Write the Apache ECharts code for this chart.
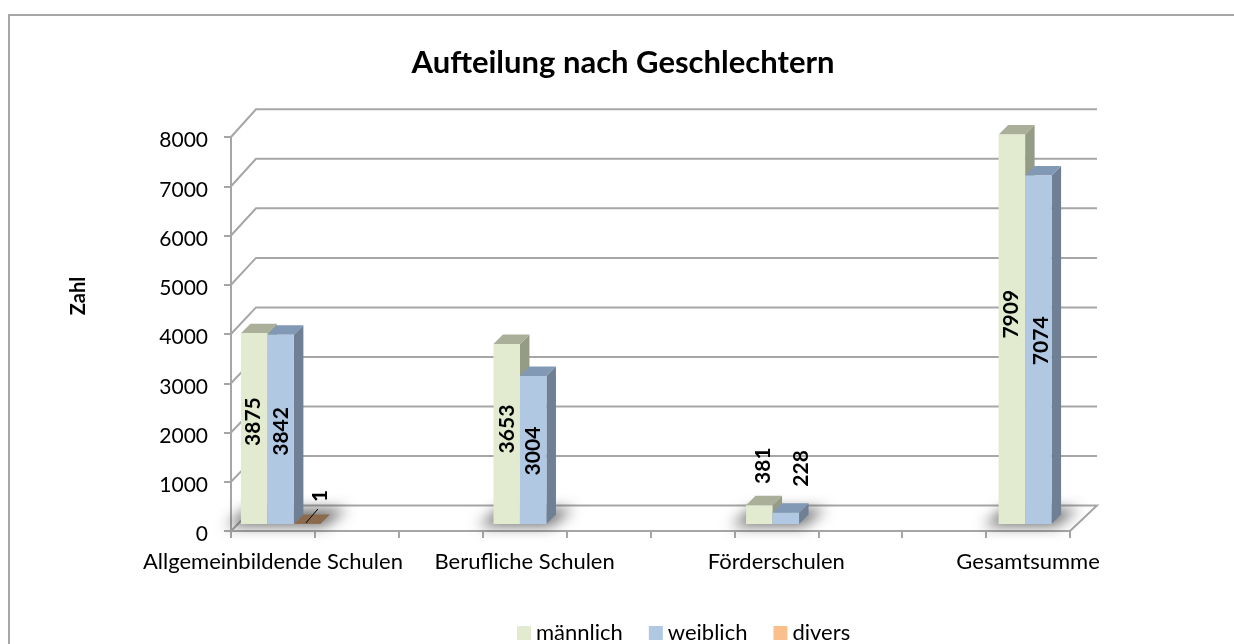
<!DOCTYPE html>
<html>
<head>
<meta charset="utf-8">
<style>
  html, body { margin: 0; padding: 0; background: #fff; overflow: hidden; }
  #chart { position: absolute; left: 0; top: 0; width: 1234px; height: 644px; }
  #frame { position: absolute; left: 8px; top: 14px; right: -4px; height: 640px; border: 2px solid #a6a6a6; box-sizing: border-box; }
</style>
</head>
<body>
<div id="frame"></div>
<div id="chart"></div>
<script src="https://cdn.jsdelivr.net/npm/echarts@6/dist/echarts.min.js"></script>
<script>
// blank categories are spacers, the sheet had empty rows between the school types
const categories = ['Allgemeinbildende Schulen', '', '', 'Berufliche Schulen', '', '', 'Förderschulen', '', '', 'Gesamtsumme'];
const maennlich = [3875, null, null, 3653, null, null, 381, null, null, 7909];
const weiblich = [3842, null, null, 3004, null, null, 228, null, null, 7074];
const divers = [1, null, null, null, null, null, null, null, null, null];
const yTicks = [0, 1000, 2000, 3000, 4000, 5000, 6000, 7000, 8000];

// label nudges from the bar centre, the labels were moved by hand in the original
const labelNudge = {
  0: { 0: [-1, -7], 3: [1, -5], 6: [4, -49], 9: [-1, -15] },
  1: { 0: [1, 2], 3: [0, 1], 6: [15, -50], 9: [3, -9] },
  2: { 0: [13, -28] }
};

const faces = [
  { front: '#e2ead0', top: '#a9af98', side: '#959c85' },
  { front: '#b1c8e3', top: '#8299b5', side: '#6f8095' },
  { front: '#f9bf8c', top: '#8c6a4e', side: '#7a5c44' }
];

const BAR_W = 26.5;
const DEPTH = 9.5;
const GROUND = 7;
const WALL_X = 25;
const GREY = '#a6a6a6';
const FONT = 'Lato';

const toRows = (arr) => arr.map((v, i) => [i, v]).filter((r) => r[1] !== null);

const barLeft = (api, cat, idx) => {
  const cx = api.coord([cat, 0])[0];
  // perspective pushes the later groups a little to the right
  return cx - 1.5 * BAR_W + idx * BAR_W + GROUND + 0.7 + 2.6 * cat / 9;
};

const poly = (points, fill) => ({
  type: 'polygon',
  shape: { points },
  style: { fill }
});

const renderBar = (idx) => (params, api) => {
  const cat = api.value(0);
  const val = api.value(1);
  const base = api.coord([cat, 0])[1] - GROUND;
  const top = api.coord([cat, val])[1] - GROUND;
  const x0 = barLeft(api, cat, idx);
  const x1 = x0 + BAR_W;
  const d = DEPTH;
  const c = faces[idx];
  const children = [
    poly([[x1, base], [x1 + d, base - d], [x1 + d, top - d], [x1, top]], c.side),
    poly([[x0, top], [x1, top], [x1 + d, top - d], [x0 + d, top - d]], c.top),
    poly([[x0, base], [x1, base], [x1, top], [x0, top]], c.front)
  ];
  const nudge = (labelNudge[idx] || {})[cat] || [0, 0];
  children.push({
    type: 'text',
    x: (x0 + x1) / 2 + nudge[0],
    y: (base + top) / 2 + nudge[1],
    rotation: Math.PI / 2,
    z2: 100,
    style: {
      text: String(val),
      font: 'bold 21px ' + FONT,
      fill: '#000',
      align: 'center',
      verticalAlign: 'middle'
    }
  });
  if (val === 1) {
    // leader line of the moved label
    children.push({
      type: 'line',
      shape: { x1: x0 + 12, y1: base - 1, x2: x0 + 24, y2: base - 15 },
      style: { stroke: '#000', lineWidth: 1 },
      z2: 100
    });
  }
  return { type: 'group', children };
};

// soft shadow on the floor, only the blur of an off-canvas polygon is visible
const renderShadow = (params, api) => {
  const cat = api.value(0);
  const n = api.value(1);
  const x0 = barLeft(api, cat, 0);
  const y0 = api.coord([cat, 0])[1];
  const x1 = x0 + n * BAR_W;
  const off = 3000;
  return {
    type: 'polygon',
    shape: { points: [
      [x0 - 15 - off, y0 - 5],
      [x1 + 4 - off, y0 - 5],
      [x1 + 27 - off, y0 - 22],
      [x0 + 6 - off, y0 - 22]
    ] },
    style: { fill: '#888', shadowColor: 'rgba(70,70,70,0.8)', shadowBlur: 14, shadowOffsetX: off }
  };
};

const renderWall = (params, api) => {
  const v = api.value(1);
  const p = api.coord([0, v]);
  const x = params.coordSys.x;
  const w = params.coordSys.width;
  const y = p[1];
  const dy = 25.5 + 2.2 * v / 8000;
  const points = v === 0
    ? [[x, y], [x + WALL_X, y - dy], [x + w + 27, y - dy], [x + w, y]]
    : [[x, y], [x + WALL_X, y - dy], [x + w + 27, y - dy]];
  return {
    type: 'polyline',
    shape: { points },
    style: { stroke: GREY, lineWidth: 2, fill: null }
  };
};

const chart = echarts.init(document.getElementById('chart'));

chart.setOption({
  animation: false,
  title: {
    text: 'Aufteilung nach Geschlechtern',
    left: 618,
    top: 42,
    textAlign: 'center',
    textStyle: { fontFamily: FONT, fontWeight: 'bold', fontSize: 31, color: '#000' }
  },
  legend: {
    left: 517,
    top: 622,
    padding: 0,
    itemWidth: 14,
    itemHeight: 14,
    itemGap: 26,
    icon: 'rect',
    data: ['männlich', 'weiblich', 'divers'],
    textStyle: { fontFamily: FONT, fontSize: 22, color: '#000' }
  },
  grid: { left: 231, right: 164, top: 137, bottom: 113 },
  xAxis: {
    type: 'category',
    data: categories,
    axisLine: { lineStyle: { color: GREY, width: 2 } },
    axisTick: { show: true, interval: 0, length: 7, lineStyle: { color: GREY, width: 2 } },
    axisLabel: { interval: 0, fontFamily: FONT, fontSize: 22, color: '#000', margin: 20 }
  },
  yAxis: {
    type: 'value',
    min: 0,
    max: 8000,
    interval: 1000,
    name: 'Zahl',
    nameLocation: 'middle',
    nameGap: 142,
    nameTextStyle: { fontFamily: FONT, fontWeight: 'bold', fontSize: 20, color: '#000', padding: [0, 0, 0, 76] },
    splitLine: { show: false },
    axisLine: { show: true, lineStyle: { color: GREY, width: 2 } },
    axisTick: { show: true, length: 7, lineStyle: { color: GREY, width: 2 } },
    // lineHeight + top align sit the digits a bit under the tick, like the original
    axisLabel: { fontFamily: FONT, fontSize: 21, color: '#000', margin: 23, verticalAlign: 'top', lineHeight: 7, formatter: (v) => String(v) }
  },
  series: [
    {
      type: 'custom',
      silent: true,
      clip: false,
      renderItem: renderWall,
      data: yTicks.map((t) => [0, t]),
      z: 1
    },
    {
      type: 'custom',
      silent: true,
      clip: false,
      renderItem: renderShadow,
      data: [[0, 3], [3, 2], [6, 2], [9, 2]],
      z: 2
    },
    { name: 'männlich', type: 'custom', clip: false, renderItem: renderBar(0), data: toRows(maennlich), itemStyle: { color: faces[0].front }, z: 3 },
    { name: 'weiblich', type: 'custom', clip: false, renderItem: renderBar(1), data: toRows(weiblich), itemStyle: { color: faces[1].front }, z: 3 },
    { name: 'divers', type: 'custom', clip: false, renderItem: renderBar(2), data: toRows(divers), itemStyle: { color: faces[2].front }, z: 3 }
  ]
});
</script>
</body>
</html>
